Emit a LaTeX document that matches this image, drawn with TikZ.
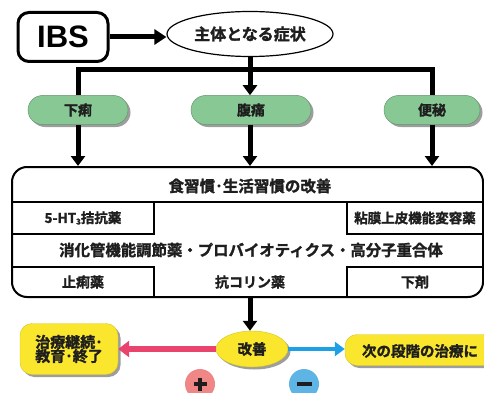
\documentclass[tikz,border=0pt]{standalone}
\usepackage{fontspec}
\setmainfont{Noto Sans CJK JP}[BoldFont={Noto Sans CJK JP Bold}, BoldFeatures={FakeBold=1.6}]
\newfontfamily\lat{Liberation Sans}
\usetikzlibrary{arrows.meta,shapes.geometric,shadows}
\definecolor{pillgreen}{RGB}{135,200,148}
\definecolor{yel}{RGB}{250,230,45}
\definecolor{pinkc}{RGB}{232,68,110}
\definecolor{bluec}{RGB}{30,160,230}
\definecolor{pluscol}{RGB}{240,135,135}
\definecolor{minuscol}{RGB}{95,180,230}
\definecolor{txt}{RGB}{30,30,30}
\begin{document}
\begin{tikzpicture}[x=1pt,y=-1pt,
  jp/.style={font=\fontsize{#1}{#1}\selectfont\bfseries, text=txt},
  shd/.style={drop shadow={shadow xshift=2.5pt, shadow yshift=-2.5pt, fill=black!55, opacity=0.7}},
  pill/.style={shd, fill=pillgreen, draw=pillgreen!75!black, line width=0.5pt, rounded corners=14.5pt, minimum height=29pt, inner sep=0pt, jp=14pt},
  yelbox/.style={shd, fill=yel, draw=yel!85!black, line width=0.4pt, inner sep=0pt},
  blk/.style={line width=5pt, -{Triangle[width=14pt,length=10pt]}},
  ibsarr/.style={line width=5pt, -{Triangle[width=15pt,length=12pt]}},
  bar/.style={line width=5pt},
  thin/.style={line width=1.2pt},
]
\useasboundingbox (0,0) rectangle (484,393);
\clip (0,0) rectangle (484,393);

% top
\node[draw, line width=3pt, rounded corners=11pt, minimum width=90pt, minimum height=49pt, font=\lat\fontsize{31pt}{31pt}\selectfont\bfseries] (ibs) at (63,37) {IBS};
\node[draw, ellipse, line width=1.2pt, minimum width=166pt, minimum height=45pt, inner sep=0pt, jp=16pt] (symp) at (250,34) {主体となる症状};
\draw[ibsarr] (ibs.east) -- (ibs.east -| symp.west);

% pills
\node[pill, minimum width=100pt] (geri) at (78,110) {下痢};
\node[pill, minimum width=120pt] (fuku) at (251,110) {腹痛};
\node[pill, minimum width=96pt] (benpi) at (432,110) {便秘};

\coordinate (j) at (250,70);
\draw[bar] (geri.north) |- (j) -| (benpi.north);
\draw[blk] (symp.south) -- (symp.south |- fuku.north);

% main box
\node[draw, line width=2pt, rounded corners=15pt, minimum width=471pt, minimum height=130pt, inner sep=0pt] (main) at (247.5,232) {};
\draw[blk] (geri.south) -- (geri.south |- main.north);
\draw[blk] (fuku.south -| symp.south) -- (symp.south |- main.north);
\draw[blk] (benpi.south) -- (benpi.south |- main.north);

\coordinate (r1) at (0,202);
\coordinate (r2) at (0,234);
\coordinate (r3) at (0,267);
\coordinate (cl) at (154,0);
\coordinate (cr) at (347,0);
\draw[thin] (main.west |- r1) -- (main.east |- r1);
\draw[thin] (main.west |- r2) -- (cl |- r2) -- (cl |- r1);
\draw[thin] (main.west |- r3) -- (cl |- r3) -- (cl |- main.south);
\draw[thin] (main.east |- r2) -- (cr |- r2) -- (cr |- r1);
\draw[thin] (main.east |- r3) -- (cr |- r3) -- (cr |- main.south);

\node[jp=15.5pt] (t1) at (250,186) {食習慣･生活習慣の改善};
\node[jp=13.5pt] (t2) at (83,218) {5-HT\raisebox{-1.5pt}{\fontsize{8pt}{8pt}\selectfont 3}拮抗薬};
\node[jp=13.5pt] (t3) at (415,218) {粘膜上皮機能変容薬};
\node[jp=15.4pt] (t4) at (251,250) {消化管機能調節薬・プロバイオティクス・高分子重合体};
\node[jp=14pt] (t5) at (83,282) {止痢薬};
\node[jp=14pt] (t6) at (250,282) {抗コリン薬};
\node[jp=14pt] (t7) at (415,282) {下剤};

% bottom
\node[yelbox, ellipse, minimum width=72pt, minimum height=36pt, jp=14.5pt] (kai) at (252,349) {改善};
\draw[blk] (symp.south |- main.south) -- (symp.south |- kai.north);
\node[yelbox, rounded corners=12pt, minimum width=98pt, minimum height=51pt, align=left, jp=15pt] (left) at (69,349) {治療継続･\\[-1pt]教育･終了};
\node[yelbox, rounded corners=12pt, minimum width=150pt, minimum height=31pt] (right) at (420,350) {};
\node[jp=14.5pt] (rt) at (420,351) {次の段階の治療に};

\draw[line width=6pt, pinkc, -{Triangle[width=16pt,length=11pt]}] (kai.west) -- (kai.west -| left.east);
\draw[line width=4.5pt, bluec, -{Triangle[width=14pt,length=10pt]}] (kai.east) -- (kai.east -| right.west);

\node[circle, fill=pluscol, minimum size=30pt, inner sep=0pt] (plus) at (200,384) {};
\draw[line width=3.4pt, txt] ([xshift=-6.5pt]plus.center) -- ([xshift=6.5pt]plus.center);
\draw[line width=3.4pt, txt] ([yshift=-6.5pt]plus.center) -- ([yshift=6.5pt]plus.center);
\node[circle, fill=minuscol, minimum size=30pt, inner sep=0pt] (minus) at (304,384) {};
\draw[line width=3.6pt, txt] ([xshift=-7.5pt]minus.center) -- ([xshift=7.5pt]minus.center);
\end{tikzpicture}
\end{document}
